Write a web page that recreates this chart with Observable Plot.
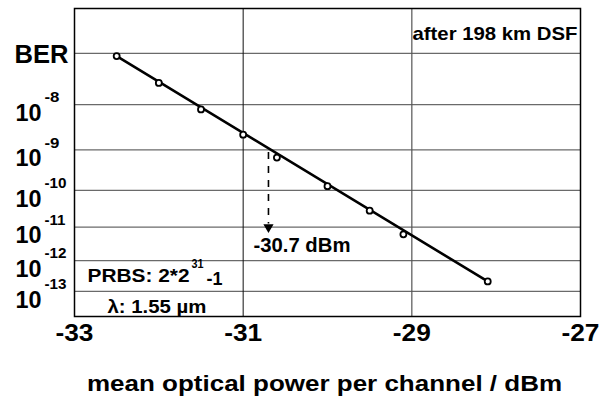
<!DOCTYPE html>
<html><head><meta charset="utf-8">
<script src="https://cdn.jsdelivr.net/npm/d3@7"></script>
<script src="https://cdn.jsdelivr.net/npm/@observablehq/plot@0.6"></script>
<style>body{margin:0;background:#fff} svg{display:block}</style>
</head><body><div id="chart"></div>
<script>
// Data (BER given as log10 exponent)
const power = [-32.5, -32.0, -31.5, -31.0, -30.6, -30.0, -29.5, -29.1, -28.1];
const berExp = [-7.05, -7.56, -8.10, -8.65, -9.18, -9.89, -10.54, -11.21, -12.67];
const fitPower = [-32.5, -28.1];
const fitExp = [-7.05, -12.67];
const yTicks = [-7, -8, -9, -10, -11, -12, -13];
const yTickLabels = ["BER", "-8", "-9", "-10", "-11", "-12", "-13"];
const xTicks = [-33, -31, -29, -27];
const xDomain = [-33, -27];
const yDomainExp = [-13.88, -6.23];
const markPower = [-30.7];
const markFromExp = [-9.05];
const markToExp = [-10.9];
const markHeadExp = [-11.0];
const markLabel = ["-30.7 dBm"];
const cornerNote = ["after 198 km DSF"];
const xTitle = ["mean optical power per channel / dBm"];

const tf = e => Math.log10(-e);  // BER axis: log(-log BER)
const points = power.map((p, i) => ({p, e: berExp[i]}));
const fit = fitPower.map((p, i) => ({p, e: fitExp[i]}));
const marker = markPower.map((p, i) => ({p, e1: markFromExp[i], e2: markToExp[i], eh: markHeadExp[i], label: markLabel[i]}));
const yt = yTicks.map((e, i) => ({e, label: yTickLabels[i]}));

const FONT = "'Liberation Sans', Arial, sans-serif";
const txt = {fontFamily: FONT, fontWeight: "bold", fill: "#000", lineAnchor: "middle"};

const plot = Plot.plot({
  width: 604, height: 397,
  marginLeft: 74, marginRight: 24, marginTop: 8, marginBottom: 81,
  style: {background: "#fff", overflow: "visible"},
  x: {domain: xDomain, axis: null},
  y: {domain: yDomainExp.map(tf), axis: null},
  marks: [
    Plot.ruleY(yTicks, {y: tf, stroke: "#6a6a6a", strokeWidth: 1.3}),
    Plot.ruleX([xTicks[1]], {x: d => d, stroke: "#111", strokeWidth: 1}),
    Plot.ruleX([xTicks[2]], {x: d => d, stroke: "#555", strokeWidth: 1.2}),
    Plot.frame({stroke: "#000", strokeWidth: 1.5}),
    Plot.line(fit, {x: "p", y: d => tf(d.e), stroke: "#000", strokeWidth: 2.6}),
    Plot.dot(points, {x: "p", y: d => tf(d.e), r: 3, stroke: "#000", strokeWidth: 1.8, fill: "#fff"}),
    Plot.link(marker, {x1: "p", x2: "p", y1: d => tf(d.e1), y2: d => tf(d.e2), stroke: "#000", strokeWidth: 1.6, strokeDasharray: "7,7"}),
    Plot.dot(marker, {x: "p", y: d => tf(d.eh), symbol: "triangle", rotate: 180, r: 3.8, fill: "#000", stroke: "none"}),
    Plot.text(marker, {x: "p", y: d => tf(d.eh), text: "label", textAnchor: "start", dx: -15, dy: 18, fontSize: 21, ...txt}),
    // y tick labels
    Plot.text(yt.slice(0, 1), {y: d => tf(d.e), text: "label", frameAnchor: "left", textAnchor: "end", dx: -6, dy: 2, fontSize: 25, ...txt}),
    Plot.text(yt.slice(1), {y: d => tf(d.e), text: () => "10", frameAnchor: "left", textAnchor: "end", dx: -33, dy: 8.5, fontSize: 24, ...txt}),
    Plot.text(yt.slice(1), {y: d => tf(d.e), text: "label", frameAnchor: "left", textAnchor: "start", dx: -30, dy: -7, fontSize: 15, ...txt}),
    // x tick labels
    Plot.text(xTicks, {x: d => d, text: d => String(d), frameAnchor: "bottom", dy: 17, fontSize: 23, ...txt}),
    // x title
    Plot.text(xTitle, {text: d => d, frameAnchor: "bottom", dy: 67, dx: -3, fontSize: 22, ...txt}),
    // corner note
    Plot.text(cornerNote, {text: d => d, frameAnchor: "top-right", textAnchor: "end", dx: -3, dy: 25, fontSize: 19, ...txt}),
    // PRBS / lambda notes
    Plot.text(["PRBS: 2*2"], {text: d => d, frameAnchor: "bottom-left", textAnchor: "start", dx: 13, dy: -41, fontSize: 19, ...txt}),
    Plot.text(["31"], {text: d => d, frameAnchor: "bottom-left", textAnchor: "start", dx: 117, dy: -53, fontSize: 12.5, ...txt}),
    Plot.text(["-1"], {text: d => d, frameAnchor: "bottom-left", textAnchor: "start", dx: 132, dy: -38, fontSize: 19, ...txt}),
    Plot.text(["λ: 1.55 µm"], {text: d => d, frameAnchor: "bottom-left", textAnchor: "start", dx: 33, dy: -10, fontSize: 19, ...txt})
  ]
});
document.getElementById("chart").appendChild(plot);

// target widths of the (wide) reference lettering
const widths = new Map([
  ...xTicks.map(d => [String(d), 38]),
  [xTitle[0], 475],
  ["10", 26],
  ["-8", 15], ["-9", 15], ["-10", 22], ["-11", 21], ["-12", 22], ["-13", 22],
  ["PRBS: 2*2", 102],
  ["31", 12],
  ["-1", 16],
  ["λ: 1.55 µm", 99],
  [cornerNote[0], 165],
  [markLabel[0], 97],
  ["BER", 54]
]);
plot.querySelectorAll("text").forEach(t => {
  const w = widths.get(t.textContent);
  if (!w || !(t.getComputedTextLength() > 0)) return;
  t.setAttribute("textLength", w);
  t.setAttribute("lengthAdjust", "spacingAndGlyphs");
});
</script></body></html>
